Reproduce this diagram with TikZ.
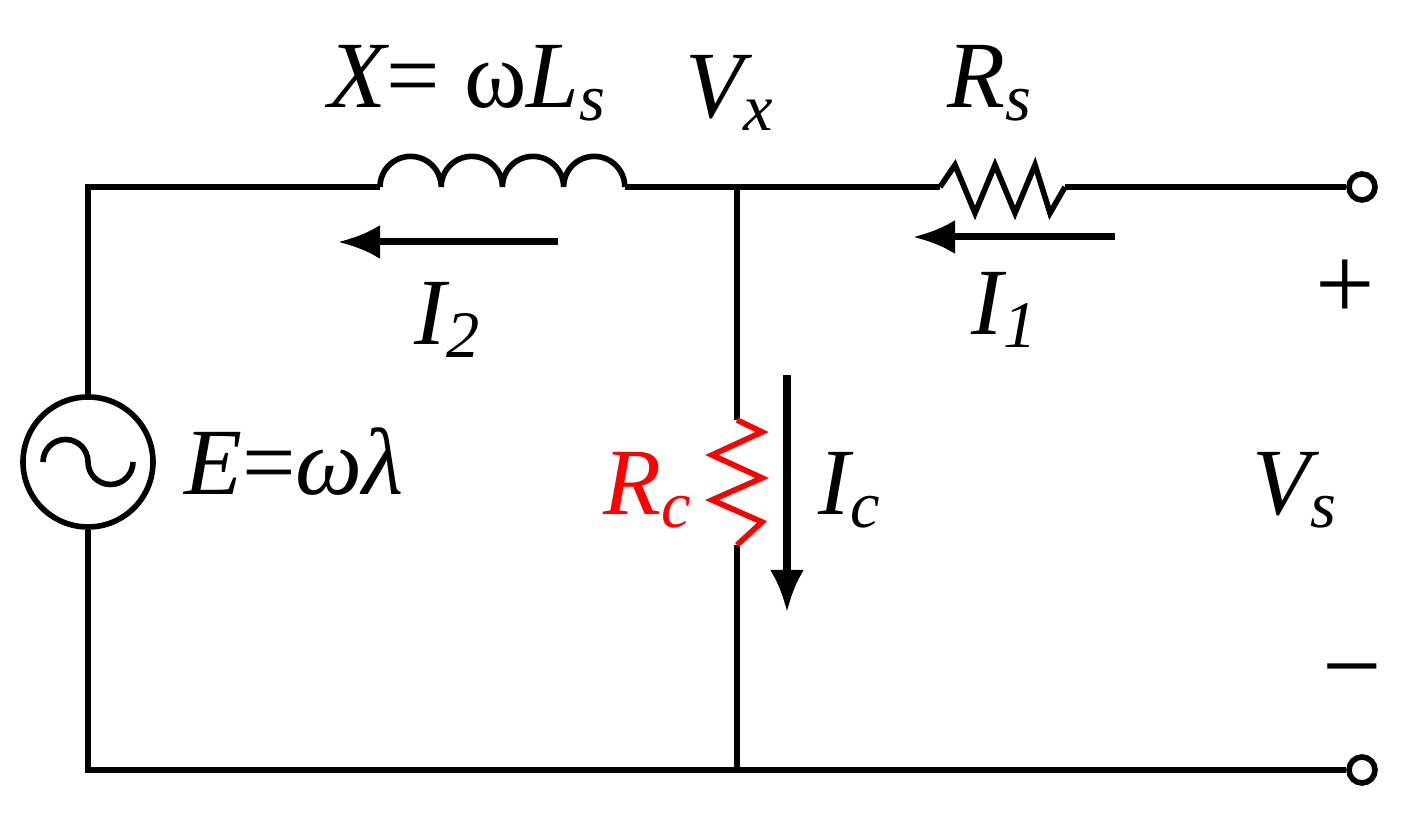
\documentclass[tikz,border=0pt]{standalone}
\usepackage{fontspec}
\setmainfont{Liberation Serif}
\usetikzlibrary{arrows.meta}

\begin{document}
\begin{tikzpicture}[
    wire/.style={line width=1.6pt},
    current/.style={line width=2pt,-{Latex[length=0.42cm,width=0.34cm]}},
    lbl/.style={font=\fontsize{27}{30}\selectfont\itshape},
    terminal/.style={circle,draw,line width=1.6pt,fill=white,minimum size=0.26cm,inner sep=0pt},
]
\useasboundingbox (0,0) rectangle (14.26,8.15);

% corners and junctions
\coordinate (tl) at (0.88,6.28);
\coordinate (bl) at (0.88,0.45);
\coordinate (Lin) at (3.80,6.28);
\coordinate (Lout) at (6.25,6.28);
\coordinate (jt) at (7.37,6.28);
\coordinate (jb) at (7.37,0.45);
\coordinate (Rin) at (9.40,6.28);
\coordinate (Rout) at (10.65,6.28);
\coordinate (Rct) at (7.37,3.95);
\coordinate (Rcb) at (7.37,2.70);
\node[terminal] (tp) at (13.62,6.28) {};
\node[terminal] (tn) at (13.62,0.45) {};
\node[circle,draw,line width=1.6pt,minimum size=1.3cm,inner sep=0pt] (E) at (0.88,3.53) {};

% wires
\draw[wire] (E.north) -- (tl) -- (Lin);
\draw[wire] (E.south) -- (bl) -- (jb) -- (tn.west);
\draw[wire] (Lout) -- (jt) -- (Rin);
\draw[wire] (Rout) -- (tp.west);
\draw[wire] (jt) -- (Rct);
\draw[wire] (Rcb) -- (jb);

% inductor
\draw[wire] (Lin) foreach \i in {1,...,4} { arc (180:0:0.306) };

% resistors
\draw[wire] (Rin) -- ++(0.15,0.22) -- ++(0.2,-0.48) -- ++(0.2,0.48) -- ++(0.2,-0.48)
            -- ++(0.2,0.48) -- ++(0.15,-0.48) -- (Rout);
\draw[wire,red] (Rct) -- ++(0.25,-0.12) -- ++(-0.5,-0.23) -- ++(0.5,-0.23) -- ++(-0.5,-0.22)
            -- ++(0.5,-0.22) -- (Rcb);

% source symbol
\draw[wire] ([xshift=-0.45cm]E.center) arc (180:0:0.225) arc (180:360:0.225);

% currents
\coordinate (i2a) at (5.58,5.73); \coordinate (i2b) at (3.38,5.73);
\coordinate (i1a) at (11.15,5.78); \coordinate (i1b) at (9.13,5.78);
\coordinate (ica) at (7.87,4.40); \coordinate (icb) at (7.87,2.03);
\draw[current] (i2a) -- (i2b);
\draw[current] (i1a) -- (i1b);
\draw[current] (ica) -- (icb);

% labels
\node[lbl] (lX) at (4.68,7.32) {X\upshape{=} ω\itshape L\textsubscript{s}};
\node[lbl] (lVx) at (7.30,7.22) {V\textsubscript{x}};
\node[lbl] (lRs) at (9.90,7.32) {R\textsubscript{s}};
\node[lbl] (lI2) at (4.48,4.95) {I\textsubscript{2}};
\node[lbl] (lI1) at (10.05,5.05) {I\textsubscript{1}};
\node[lbl,anchor=west] (lE) at (1.72,3.53) {E\upshape{=}\itshape ωλ};
\node[lbl,red] (lRc) at (6.48,3.25) {R\textsubscript{c}};
\node[lbl] (lIc) at (8.50,3.25) {I\textsubscript{c}};
\node[lbl] (lVs) at (12.95,3.25) {V\textsubscript{s}};
\node[font=\fontsize{30}{32}\selectfont] (plus) at (13.45,5.25) {+};
\node[font=\fontsize{30}{32}\selectfont] (minus) at (13.52,1.32) {−};
\end{tikzpicture}
\end{document}
